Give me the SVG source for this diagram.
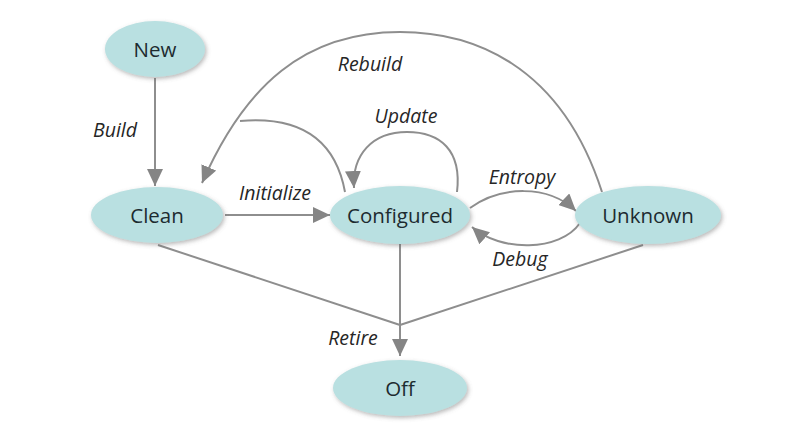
<svg xmlns="http://www.w3.org/2000/svg" width="785" height="440" viewBox="0 0 785 440">
<style>
.node ellipse{fill:#b9e0e1;filter:url(#sh)}
.node text{font-family:"Open Sans","Noto Sans","Liberation Sans",sans-serif;font-size:20.5px;fill:#1d2b30;text-anchor:middle;dominant-baseline:central}
.lbl{font-family:"Open Sans","Noto Sans","Liberation Sans",sans-serif;font-size:19.5px;font-style:italic;fill:#262626;text-anchor:middle}
.edge{fill:none;stroke:#8e8e8e;stroke-width:2}
.arr{marker-end:url(#ah)}
</style>
<defs>
<filter id="sh" x="-20%" y="-30%" width="140%" height="160%">
<feDropShadow dx="1.5" dy="2" stdDeviation="2" flood-color="#666" flood-opacity="0.45"/>
</filter>
<marker id="ah" markerUnits="userSpaceOnUse" markerWidth="17" markerHeight="16" viewBox="0 0 17 16" refX="17" refY="8" orient="auto">
<path d="M0,0 L17,8 L0,16 z" fill="#858585"/>
</marker>
</defs>
<g id="connectors">
<path class="edge arr" d="M155,78 L155,186"/>
<path class="edge arr" d="M225,215 L330,215"/>
<path class="edge arr" d="M457,192 C462,150 440,132 407,132 C372,132 352,155 354,188"/>
<path class="edge arr" d="M602,192 C560,62 470,32 400,32 C305,32 245,85 202,183"/>
<path class="edge" d="M345,192 C335,138 298,116 240,121"/>
<path class="edge arr" d="M470,208 C500,186 548,184 576,211"/>
<path class="edge arr" d="M580,223 C560,252 500,252 472,227"/>
<path class="edge" d="M158,245 L400,325"/>
<path class="edge" d="M643,245 L400,325"/>
<path class="edge arr" d="M400,243 L400,356"/>
</g>
<g id="labels">
<text class="lbl" x="115" y="137">Build</text>
<text class="lbl" x="275" y="200">Initialize</text>
<text class="lbl" x="406" y="123">Update</text>
<text class="lbl" x="370" y="71">Rebuild</text>
<text class="lbl" x="522" y="184">Entropy</text>
<text class="lbl" x="520" y="266">Debug</text>
<text class="lbl" x="353" y="345">Retire</text>
</g>
<g id="node-new" class="node"><ellipse cx="155" cy="49" rx="50" ry="28"/><text x="155" y="49">New</text></g>
<g id="node-clean" class="node"><ellipse cx="157" cy="215" rx="66" ry="28"/><text x="157" y="215">Clean</text></g>
<g id="node-configured" class="node"><ellipse cx="400" cy="215" rx="70" ry="29"/><text x="400" y="215">Configured</text></g>
<g id="node-unknown" class="node"><ellipse cx="648" cy="215" rx="73" ry="29"/><text x="648" y="215">Unknown</text></g>
<g id="node-off" class="node"><ellipse cx="400" cy="388" rx="67" ry="28"/><text x="400" y="388">Off</text></g>
</svg>
